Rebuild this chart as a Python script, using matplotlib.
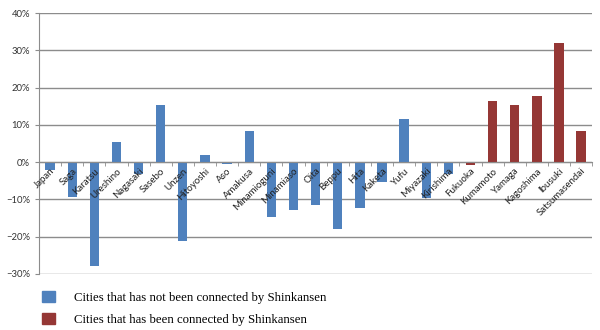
import matplotlib.pyplot as plt
from matplotlib.patches import Patch
from matplotlib.ticker import PercentFormatter

cities = [
    "Japan", "Saga", "Karatsu", "Ureshino", "Nagasaki", "Sasebo", "Unzen",
    "Hitoyoshi", "Aso", "Amakusa", "Minamioguni", "Minamiaso", "Oita",
    "Beppu", "Hita", "Kaketa", "Yufu", "Miyazaki", "Kirishima",
    "Fukuoka", "Kumamoto", "Yamaga", "Kagoshima", "Ibusuki", "Satsumasendai",
]
change = [
    -2.1, -9.4, -27.8, 5.4, -3.2, 15.3, -21.2, 2.0, -0.4, 8.4, -14.8, -12.8,
    -11.5, -18.0, -12.2, -5.2, 11.6, -9.7, -3.3,
    -0.8, 16.5, 15.4, 17.8, 32.0, 8.4,
]
connected = [False] * 19 + [True] * 6

BLUE = "#4f81bd"
RED = "#953735"
GRID = "#8c8c8c"
legend_labels = [
    "Cities that has not been connected by Shinkansen",
    "Cities that has been connected by Shinkansen",
]

fig = plt.figure(figsize=(6, 3.3), dpi=100)
ax = fig.add_axes([0.065, 0.17, 0.922, 0.79])

# category axis crosses at 0% (must be set before tick labels, it resets ticks)
ax.spines["bottom"].set_position(("data", 0))
ax.spines["bottom"].set_color(GRID)
ax.spines["left"].set_color(GRID)
ax.spines["top"].set_visible(False)
ax.spines["right"].set_visible(False)
ax.set_axisbelow(False)  # labels are drawn over the bars

x = list(range(len(cities)))
colors = [RED if c else BLUE for c in connected]
ax.bar(x, change, width=0.42, color=colors, zorder=2)

ax.set_xlim(-0.5, len(cities) - 0.5)
ax.set_ylim(-30, 40)
ax.set_yticks(range(-30, 41, 10))
ax.yaxis.set_major_formatter(PercentFormatter(decimals=0))
# gridlines behind the bars
for t in ax.get_yticks():
    ax.axhline(t, color=GRID, linewidth=1.0, zorder=0)

ax.set_xticks(x)
ax.set_xticklabels(cities, rotation=45, ha="right", rotation_mode="anchor",
                   fontsize=7, family="Lato", color="#222222")
ax.tick_params(axis="x", which="major", length=0, pad=3)
ax.set_xticks([i - 0.5 for i in range(len(cities) + 1)], minor=True)
ax.tick_params(axis="x", which="minor", length=3, color=GRID, direction="out")

ax.tick_params(axis="y", length=3, color=GRID, labelsize=6.8,
               labelcolor="#333333")
for lbl in ax.get_yticklabels():
    lbl.set_family("Lato")

handles = [Patch(color=BLUE), Patch(color=RED)]
fig.legend(handles, legend_labels, loc="upper left",
           bbox_to_anchor=(0.06, 0.138), frameon=False,
           prop={"family": "Liberation Serif", "size": 9.2},
           handlelength=0.95, handleheight=0.95, handletextpad=1.55,
           labelspacing=0.75, borderpad=0)

fig.savefig("out.png", dpi=100)
